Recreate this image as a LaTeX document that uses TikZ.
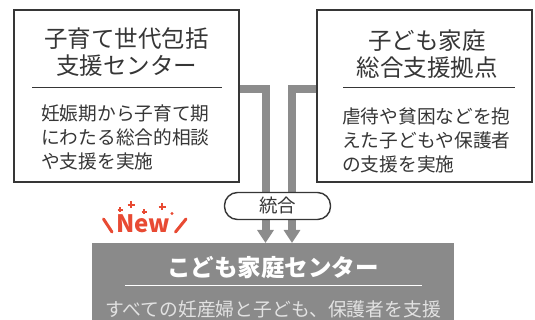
\documentclass[tikz,border=0pt]{standalone}
\usepackage{fontspec}
\setmainfont{Noto Sans CJK JP}
\usetikzlibrary{arrows.meta}
\definecolor{ink}{HTML}{363636}
\definecolor{bandgray}{HTML}{8C8C8C}
\definecolor{boxgray}{HTML}{8A8A8A}
\definecolor{newred}{HTML}{E84A33}
\definecolor{paletext}{HTML}{E2E2E2}
\begin{document}
\begin{tikzpicture}[x=1pt,y=-1pt,
  boxframe/.style={draw=ink,line width=1.3pt,fill=white,inner sep=0pt},
  titletext/.style={font=\fontsize{23.5}{27}\selectfont,text=ink,align=center,inner sep=0pt},
  bodytext/.style={font=\fontsize{18.7}{24}\selectfont,text=ink,align=left,inner sep=0pt},
  rule/.style={draw=ink,line width=0.9pt},
  bandline/.style={draw=bandgray,line width=8pt,-{Triangle[width=16pt,length=13pt]}},
  pill/.style={draw=ink,line width=1.4pt,fill=white,rounded corners=13pt,minimum width=106pt,minimum height=27pt,inner sep=0pt,font=\fontsize{18.5}{20}\selectfont,text=ink},
  sparkle/.style={draw=newred,line width=1.4pt},
]
\useasboundingbox (0,0) rectangle (535,320);

% boxes
\node[boxframe,minimum width=225pt,minimum height=172pt] (L) at (126.5,96) {};
\node[boxframe,minimum width=215pt,minimum height=172pt] (R) at (424.5,96) {};

% junction coordinates
\coordinate (j1) at (265.5,89);
\coordinate (j2) at (292,89);
\coordinate (e1) at (265.5,243);
\coordinate (e2) at (292,243);

% bands
\draw[bandline] (L.east |- j1) -- (j1) -- (e1);
\draw[bandline] (R.west |- j2) -- (j2) -- (e2);

% box borders on top of band ends
\draw[draw=ink,line width=1.3pt] (L.north west) rectangle (L.south east);
\draw[draw=ink,line width=1.3pt] (R.north west) rectangle (R.south east);

% left box content
\node[titletext] (Lt) at (126.5,52.5) {子育て世代包括\\支援センター};
\draw[rule] (32,87) -- (222,87);
\node[bodytext,anchor=west] (Lb) at (41,137) {妊娠期から子育て期\\にわたる総合的相談\\や支援を実施};

% right box content
\node[titletext] (Rt) at (427,54) {子ども家庭\\総合支援拠点};
\draw[rule] (343,87) -- (515,87);
\node[bodytext,anchor=west] (Rb) at (342,140) {虐待や貧困などを抱\\えた子どもや保護者\\の支援を実施};

% pill
\node[pill] (P) at (277.5,206) {統合};

% bottom box
\fill[boxgray] (92,243) rectangle (454,320);
\node[font=\bfseries\fontsize{23.5}{27}\selectfont,text=white,inner sep=0pt] (Bt) at (273,268) {こども家庭センター};
\draw[draw=white,line width=1pt] (125,285) -- (422,285);
\node[font=\fontsize{18.8}{22}\selectfont,text=paletext,inner sep=0pt] (Bb) at (273,309) {すべての妊産婦と子ども、保護者を支援};

% New badge
\node[font=\bfseries\fontsize{24}{26}\selectfont,text=newred,inner sep=0pt,anchor=base] (N) at (143,233) {New};
\draw[newred,line width=3pt,line cap=round] (103.5,219) -- (112,232);
\draw[newred,line width=3pt,line cap=round] (186,219) -- (175.5,232);
\draw[sparkle] (117.5,210) -- (122.5,210) (120,207.5) -- (120,212.5);
\draw[sparkle] (127.5,205) -- (134.5,205) (131,201.5) -- (131,208.5);
\draw[sparkle] (141.5,212) -- (146.5,212) (144,209.5) -- (144,214.5);
\draw[sparkle] (158.5,207) -- (165.5,207) (162,203.5) -- (162,210.5);
\fill[newred] (172,213.5) circle (1.6pt);
\end{tikzpicture}
\end{document}
